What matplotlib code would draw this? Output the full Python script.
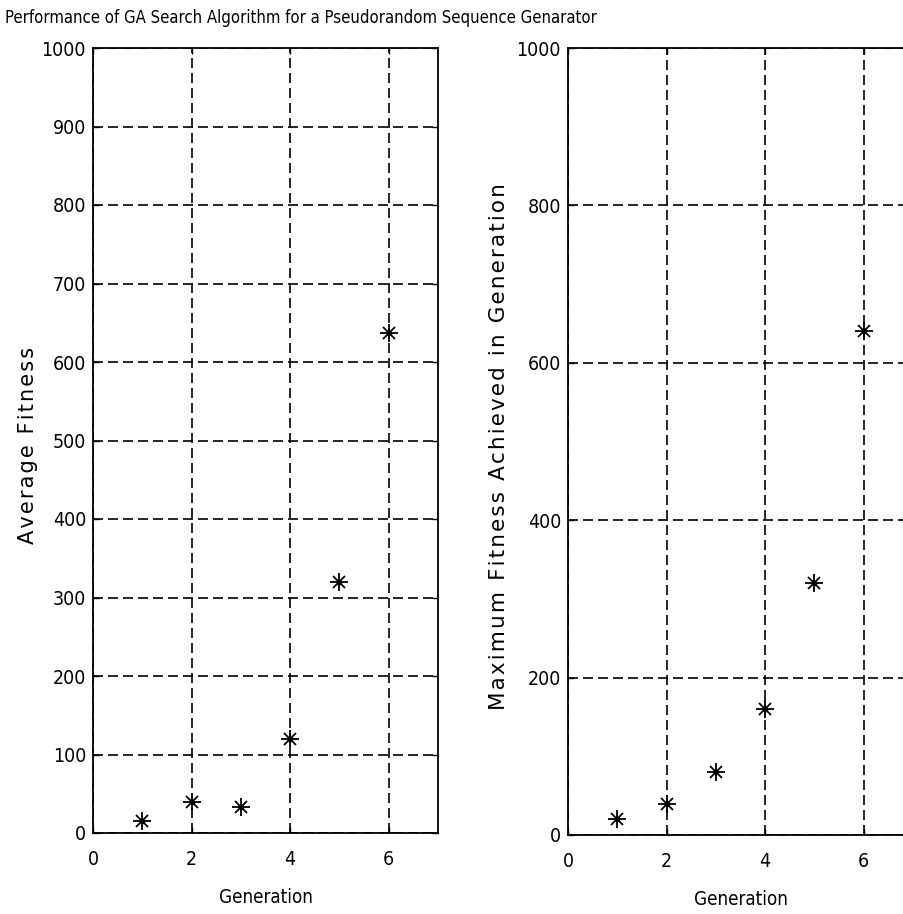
import numpy as np
import matplotlib.pyplot as plt

# data
generation = [1, 2, 3, 4, 5, 6]
avg_fitness = [15, 40, 33, 120, 320, 637]
max_fitness = [20, 40, 80, 160, 320, 640]

title = "Performance of GA Search Algorithm for a Pseudorandom Sequence Genarator"
hair = "\u200a"


def spaced(s):
    # matlab draws the y labels letter-spaced
    return hair.join(s)


fig = plt.figure(figsize=(9.04, 9.14), dpi=100)

ax1 = fig.add_axes([93 / 904, 1 - 833 / 914, 345 / 904, 785 / 914])
ax2 = fig.add_axes([568 / 904, 1 - 835 / 914, 345 / 904, 787 / 914])


def style(ax, yticks, ylabel, ysize):
    ax.set_xlim(0, 7)
    ax.set_ylim(0, 1000)
    ax.set_xticks([0, 2, 4, 6])
    ax.set_yticks(yticks)
    ax.set_axisbelow(True)
    ax.grid(True, color='black', linestyle=(0, (6, 3)), linewidth=1.2)
    ax.tick_params(direction='in', top=True, right=True, length=4, width=1,
                   labelsize=14)
    ax.tick_params(axis='y', pad=5)
    ax.tick_params(axis='x', pad=12)
    for lab in ax.get_xticklabels() + ax.get_yticklabels():
        lab.set_fontstretch('condensed')
    for sp in ax.spines.values():
        sp.set_linewidth(1.3)
        sp.set_zorder(3)
    ax.set_xlabel("Generation", fontsize=13.5, fontstretch='condensed', labelpad=14)
    ax.set_ylabel(spaced(ylabel), fontsize=ysize)


def asterisk(ax, x, y):
    ax.plot(x, y, '+', color='black', markersize=13, markeredgewidth=1.3)
    ax.plot(x, y, 'x', color='black', markersize=8, markeredgewidth=1.3)
    ax.plot(x, y, 'o', color='black', markersize=3)


asterisk(ax1, generation, avg_fitness)
style(ax1, np.arange(0, 1001, 100), "Average Fitness", 15)
ax1.yaxis.set_label_coords(-0.16, 0.494)

asterisk(ax2, generation, max_fitness)
style(ax2, np.arange(0, 1001, 200), "Maximum Fitness Achieved in Generation", 15.5)
ax2.yaxis.set_label_coords(-0.172, 0.494)

fig.text(5 / 904, 1 - 18 / 914, title, fontsize=12, fontstretch='condensed',
         va='center', ha='left')

fig.savefig("out.png", dpi=100)
